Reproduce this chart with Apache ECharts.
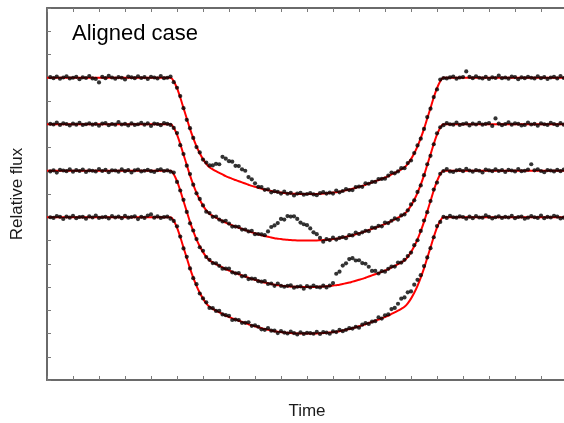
<!DOCTYPE html>
<html>
<head>
<meta charset="utf-8">
<script src="https://cdn.jsdelivr.net/npm/echarts@6/dist/echarts.min.js"></script>
<style>
  html, body { margin: 0; padding: 0; background: #fff; }
  #chart { width: 564px; height: 423px; }
</style>
</head>
<body>
<div id="chart"></div>
<script>
// Observation times (arbitrary units)
var time = [
  0.125,0.25,0.375,0.5,0.625,0.75,0.875,1,
  1.125,1.25,1.375,1.5,1.625,1.75,1.875,2,
  2.125,2.25,2.375,2.5,2.625,2.75,2.875,3,
  3.125,3.25,3.375,3.5,3.625,3.75,3.875,4,
  4.125,4.25,4.375,4.5,4.625,4.75,4.875,5,
  5.125,5.25,5.375,5.5,5.625,5.75,5.875,6,
  6.125,6.25,6.375,6.5,6.625,6.75,6.875,7,
  7.125,7.25,7.375,7.5,7.625,7.75,7.875,8,
  8.125,8.25,8.375,8.5,8.625,8.75,8.875,9,
  9.125,9.25,9.375,9.5,9.625,9.75,9.875,10,
  10.125,10.25,10.375,10.5,10.625,10.75,10.875,11,
  11.125,11.25,11.375,11.5,11.625,11.75,11.875,12,
  12.125,12.25,12.375,12.5,12.625,12.75,12.875,13,
  13.125,13.25,13.375,13.5,13.625,13.75,13.875,14,
  14.125,14.25,14.375,14.5,14.625,14.75,14.875,15,
  15.125,15.25,15.375,15.5,15.625,15.75,15.875,16,
  16.125,16.25,16.375,16.5,16.625,16.75,16.875,17,
  17.125,17.25,17.375,17.5,17.625,17.75,17.875,18,
  18.125,18.25,18.375,18.5,18.625,18.75,18.875,19,
  19.125,19.25,19.375,19.5,19.625,19.75,19.875,20
];

// Measured flux, light curve 1 (spot crossed early in the transit)
var flux1 = [
  13.03,12.98,13.05,12.96,13.01,13.06,12.97,13.00,13.04,12.94,
  13.02,12.99,13.07,12.97,12.95,12.80,13.04,12.98,13.08,13.01,
  12.96,13.03,13.00,12.93,13.05,13.02,12.98,13.06,12.99,13.03,
  12.95,13.04,13.01,12.97,13.07,12.98,13.00,13.05,12.81,12.57,
  12.21,11.69,11.19,10.83,10.41,10.02,9.79,9.48,9.35,9.23,
  9.23,9.30,9.28,9.60,9.52,9.41,9.39,9.21,9.20,9.06,
  9.00,8.73,8.63,8.46,8.31,8.30,8.18,8.20,8.07,8.12,
  8.09,8.02,8.10,8.01,8.05,7.94,8.02,8.05,7.97,8.00,
  8.04,7.98,7.95,8.04,8.08,8.02,8.06,8.02,8.15,8.07,
  8.13,8.21,8.17,8.17,8.30,8.32,8.31,8.46,8.44,8.52,
  8.52,8.64,8.65,8.66,8.79,8.92,8.89,8.97,9.11,9.11,
  9.33,9.44,9.76,10.09,10.38,10.80,11.31,11.67,12.17,12.50,
  12.92,12.99,12.97,13.02,13.05,12.96,13.01,13.03,13.27,13.04,
  12.98,13.06,13.00,12.97,13.04,12.95,13.02,12.99,13.09,12.98,
  13.01,12.96,13.05,13.03,12.94,13.02,12.98,13.04,13.00,12.97,
  13.06,12.98,13.03,12.95,13.01,13.04,12.97,13.07,12.99,13.02
];

// Light curve 2 (spot crossed before mid-transit)
var flux2 = [
  11.02,10.99,11.07,10.97,11.04,11.01,10.95,11.03,10.98,11.06,
  10.97,11.00,11.04,10.98,11.02,10.94,11.03,11.05,10.96,11.01,
  10.98,11.09,10.99,11.02,10.95,11.04,10.97,11.00,11.06,10.98,
  11.04,10.93,11.03,11.01,10.96,11.05,11.02,10.97,10.84,10.62,
  10.10,9.72,9.22,8.86,8.40,8.03,7.79,7.51,7.24,7.18,
  7.02,7.03,6.90,6.82,6.85,6.73,6.60,6.60,6.59,6.47,
  6.47,6.39,6.41,6.27,6.28,6.26,6.23,6.39,6.58,6.65,
  6.75,6.93,6.90,7.05,7.03,7.04,6.93,6.77,6.70,6.66,
  6.52,6.35,6.27,6.11,5.95,6.06,6.02,6.12,6.04,6.11,
  6.15,6.10,6.23,6.22,6.34,6.28,6.35,6.42,6.40,6.55,
  6.54,6.63,6.61,6.77,6.75,6.85,6.95,6.90,7.08,7.12,
  7.30,7.55,7.73,8.09,8.37,8.81,9.28,9.64,10.14,10.61,
  10.87,10.96,11.05,11.00,10.98,11.07,10.97,11.01,11.04,10.95,
  11.03,10.99,11.06,10.98,11.02,11.05,10.93,11.25,11.03,10.96,
  11.01,11.08,10.98,11.04,11.02,10.95,10.97,11.07,10.99,11.02,
  10.94,11.04,11.00,10.97,11.06,11.01,10.96,11.05,10.98,11.03
];

// Light curve 3 (spot crossed after mid-transit)
var flux3 = [
  8.97,9.02,8.92,9.04,9.01,8.98,9.06,8.96,9.03,8.99,
  9.05,8.95,9.02,9.00,8.97,9.07,8.99,9.04,8.94,9.02,
  9.01,8.96,9.06,8.98,9.03,8.93,9.02,9.05,8.97,9.00,
  9.04,8.98,8.95,9.03,9.06,8.99,9.02,8.96,8.92,8.52,
  8.15,7.75,7.23,6.74,6.43,6.06,5.71,5.56,5.29,5.17,
  5.03,5.02,4.91,4.79,4.79,4.79,4.63,4.59,4.60,4.46,
  4.48,4.34,4.36,4.35,4.25,4.23,4.25,4.13,4.15,4.05,
  4.15,4.05,4.01,4.05,4.07,3.97,4.01,4.03,3.93,4.04,
  3.98,4.06,4.00,3.98,4.06,3.98,4.06,4.17,4.57,4.66,
  4.92,5.02,5.20,5.24,5.14,5.15,5.03,5.00,4.87,4.69,
  4.69,4.58,4.68,4.66,4.78,4.88,4.88,5.05,5.05,5.17,
  5.33,5.48,5.80,6.01,6.41,6.86,7.22,7.70,8.19,8.49,
  8.87,8.99,9.07,8.97,8.95,9.02,9.04,8.98,9.08,9.01,
  8.96,9.03,9.00,8.93,9.05,9.02,8.98,9.06,8.99,9.03,
  8.95,9.04,9.01,8.97,9.07,8.98,9.00,9.05,9.28,9.02,
  9.06,8.99,8.94,9.03,9.01,8.97,9.04,8.98,9.05,9.00
];

// Light curve 4 (spot crossed near egress)
var flux4 = [
  7.00,6.97,7.05,7.02,6.93,7.03,6.98,7.06,6.96,7.01,
  7.02,6.94,7.04,6.99,7.07,6.97,7.00,7.02,6.95,7.05,
  6.99,7.03,6.96,7.06,6.98,7.01,7.04,6.92,7.02,6.97,
  7.07,7.12,6.98,7.04,6.97,7.01,7.03,6.94,6.84,6.61,
  6.17,5.66,5.30,4.80,4.38,4.12,3.72,3.51,3.34,3.10,
  3.09,2.97,2.97,2.82,2.79,2.76,2.58,2.60,2.58,2.46,
  2.46,2.48,2.33,2.35,2.29,2.18,2.16,2.23,2.12,2.12,
  2.02,2.10,2.04,2.00,2.08,2.02,1.96,2.05,1.98,2.03,
  2.02,1.99,2.07,1.98,2.06,2.04,1.99,2.09,2.06,2.16,
  2.10,2.16,2.23,2.21,2.29,2.25,2.38,2.45,2.41,2.51,
  2.53,2.69,2.64,2.78,2.82,3.05,3.10,3.28,3.50,3.55,
  3.77,3.81,4.10,4.31,4.51,4.90,5.27,5.67,6.14,6.62,
  6.80,7.02,6.97,7.06,7.00,6.98,7.04,7.01,6.94,7.03,
  6.96,7.05,6.99,6.98,7.08,7.02,6.95,7.00,7.04,6.97,
  7.02,6.99,7.06,6.96,7.01,7.03,6.94,6.98,7.05,7.00,
  6.97,7.07,6.96,7.02,6.99,7.06,7.03,6.95,6.98,7.04
];

// Out-of-transit level of each light curve (curves are stacked)
var baselines = [13, 11, 9, 7];

// Unspotted transit model: times and depth below the out-of-transit level
var modelTime = [
  0,
  4.75,4.875,5,5.125,5.25,5.375,5.5,5.625,5.75,5.875,6,
  6.125,6.25,6.375,6.5,6.625,6.75,6.875,7,7.125,7.25,7.375,7.5,
  7.625,7.75,7.875,8,8.125,8.25,8.375,8.5,8.625,8.75,8.875,9,
  9.125,9.25,9.375,9.5,9.625,9.75,9.875,10,
  10.125,10.25,10.375,10.5,10.625,10.75,10.875,11,
  11.125,11.25,11.375,11.5,11.625,11.75,11.875,12,
  12.125,12.25,12.375,12.5,12.625,12.75,12.875,13,
  13.125,13.25,13.375,13.5,13.625,13.75,13.875,14,
  14.125,14.25,14.375,14.5,14.625,14.75,14.875,15,15.125,15.25,
  20
];
var modelDepth = [
  0,
  0,0.15,0.45,0.85,1.3,1.75,2.2,2.6,2.95,3.25,3.5,
  3.7,3.85,3.94,4.02,4.09,4.16,4.23,4.29,4.35,4.40,4.45,4.50,
  4.55,4.60,4.65,4.69,4.73,4.77,4.81,4.84,4.87,4.90,4.92,4.94,
  4.96,4.97,4.98,4.99,5.0,5.0,5.0,5.0,
  5.0,5.0,5.0,4.99,4.98,4.97,4.96,4.94,
  4.92,4.90,4.87,4.84,4.81,4.77,4.73,4.69,
  4.65,4.60,4.55,4.50,4.45,4.40,4.35,4.29,
  4.23,4.16,4.09,4.02,3.94,3.85,3.7,3.5,
  3.25,2.95,2.6,2.2,1.75,1.3,0.85,0.45,0.15,0,
  0
];

var fluxes = [flux1, flux2, flux3, flux4];

var series = [];
baselines.forEach(function (base) {
  series.push({
    type: 'line',
    data: modelTime.map(function (t, i) { return [t, base - modelDepth[i]]; }),
    showSymbol: false,
    smooth: 0.3,
    lineStyle: { color: '#ff0000', width: 2 },
    z: 2,
    silent: true
  });
});
fluxes.forEach(function (f) {
  series.push({
    type: 'scatter',
    data: time.map(function (t, i) { return [t, f[i]]; }),
    symbol: 'circle',
    symbolSize: 4.2,
    itemStyle: { color: '#000' },
    z: 3,
    silent: true
  });
});

var axisLine = { show: true, onZero: false, lineStyle: { color: '#6a6a6a', width: 2 } };
var axisTick = { show: true, inside: true, length: 4, lineStyle: { color: '#7a7a7a', width: 1 } };
var font = 'Liberation Sans, Arial, sans-serif';

var chart = echarts.init(document.getElementById('chart'), null, { renderer: 'canvas' });
chart.setOption({
  animation: false,
  backgroundColor: '#fff',
  grid: {
    left: 47, top: 8, width: 520, height: 372,
    containLabel: false, outerBoundsMode: 'none'
  },
  xAxis: [
    {
      type: 'value', min: 0, max: 20, interval: 1, position: 'bottom',
      axisLine: axisLine, axisTick: axisTick,
      axisLabel: { show: false }, splitLine: { show: false },
      name: 'Time', nameLocation: 'middle', nameGap: 23,
      nameTextStyle: { fontSize: 17, color: '#1a1a1a', fontFamily: font }
    },
    {
      type: 'value', min: 0, max: 20, interval: 1, position: 'top',
      axisLine: axisLine, axisTick: axisTick,
      axisLabel: { show: false }, splitLine: { show: false }
    }
  ],
  yAxis: [
    {
      type: 'value', min: 0, max: 16, interval: 1, position: 'left',
      axisLine: axisLine, axisTick: axisTick,
      axisLabel: { show: false }, splitLine: { show: false },
      name: 'Relative flux', nameLocation: 'middle', nameGap: 21,
      nameTextStyle: { fontSize: 17, color: '#1a1a1a', fontFamily: font }
    }
  ],
  graphic: [
    {
      type: 'text', left: 72, top: 23,
      style: { text: 'Aligned case', font: '22px ' + font, fill: '#000' }
    }
  ],
  series: series
});
</script>
</body>
</html>
